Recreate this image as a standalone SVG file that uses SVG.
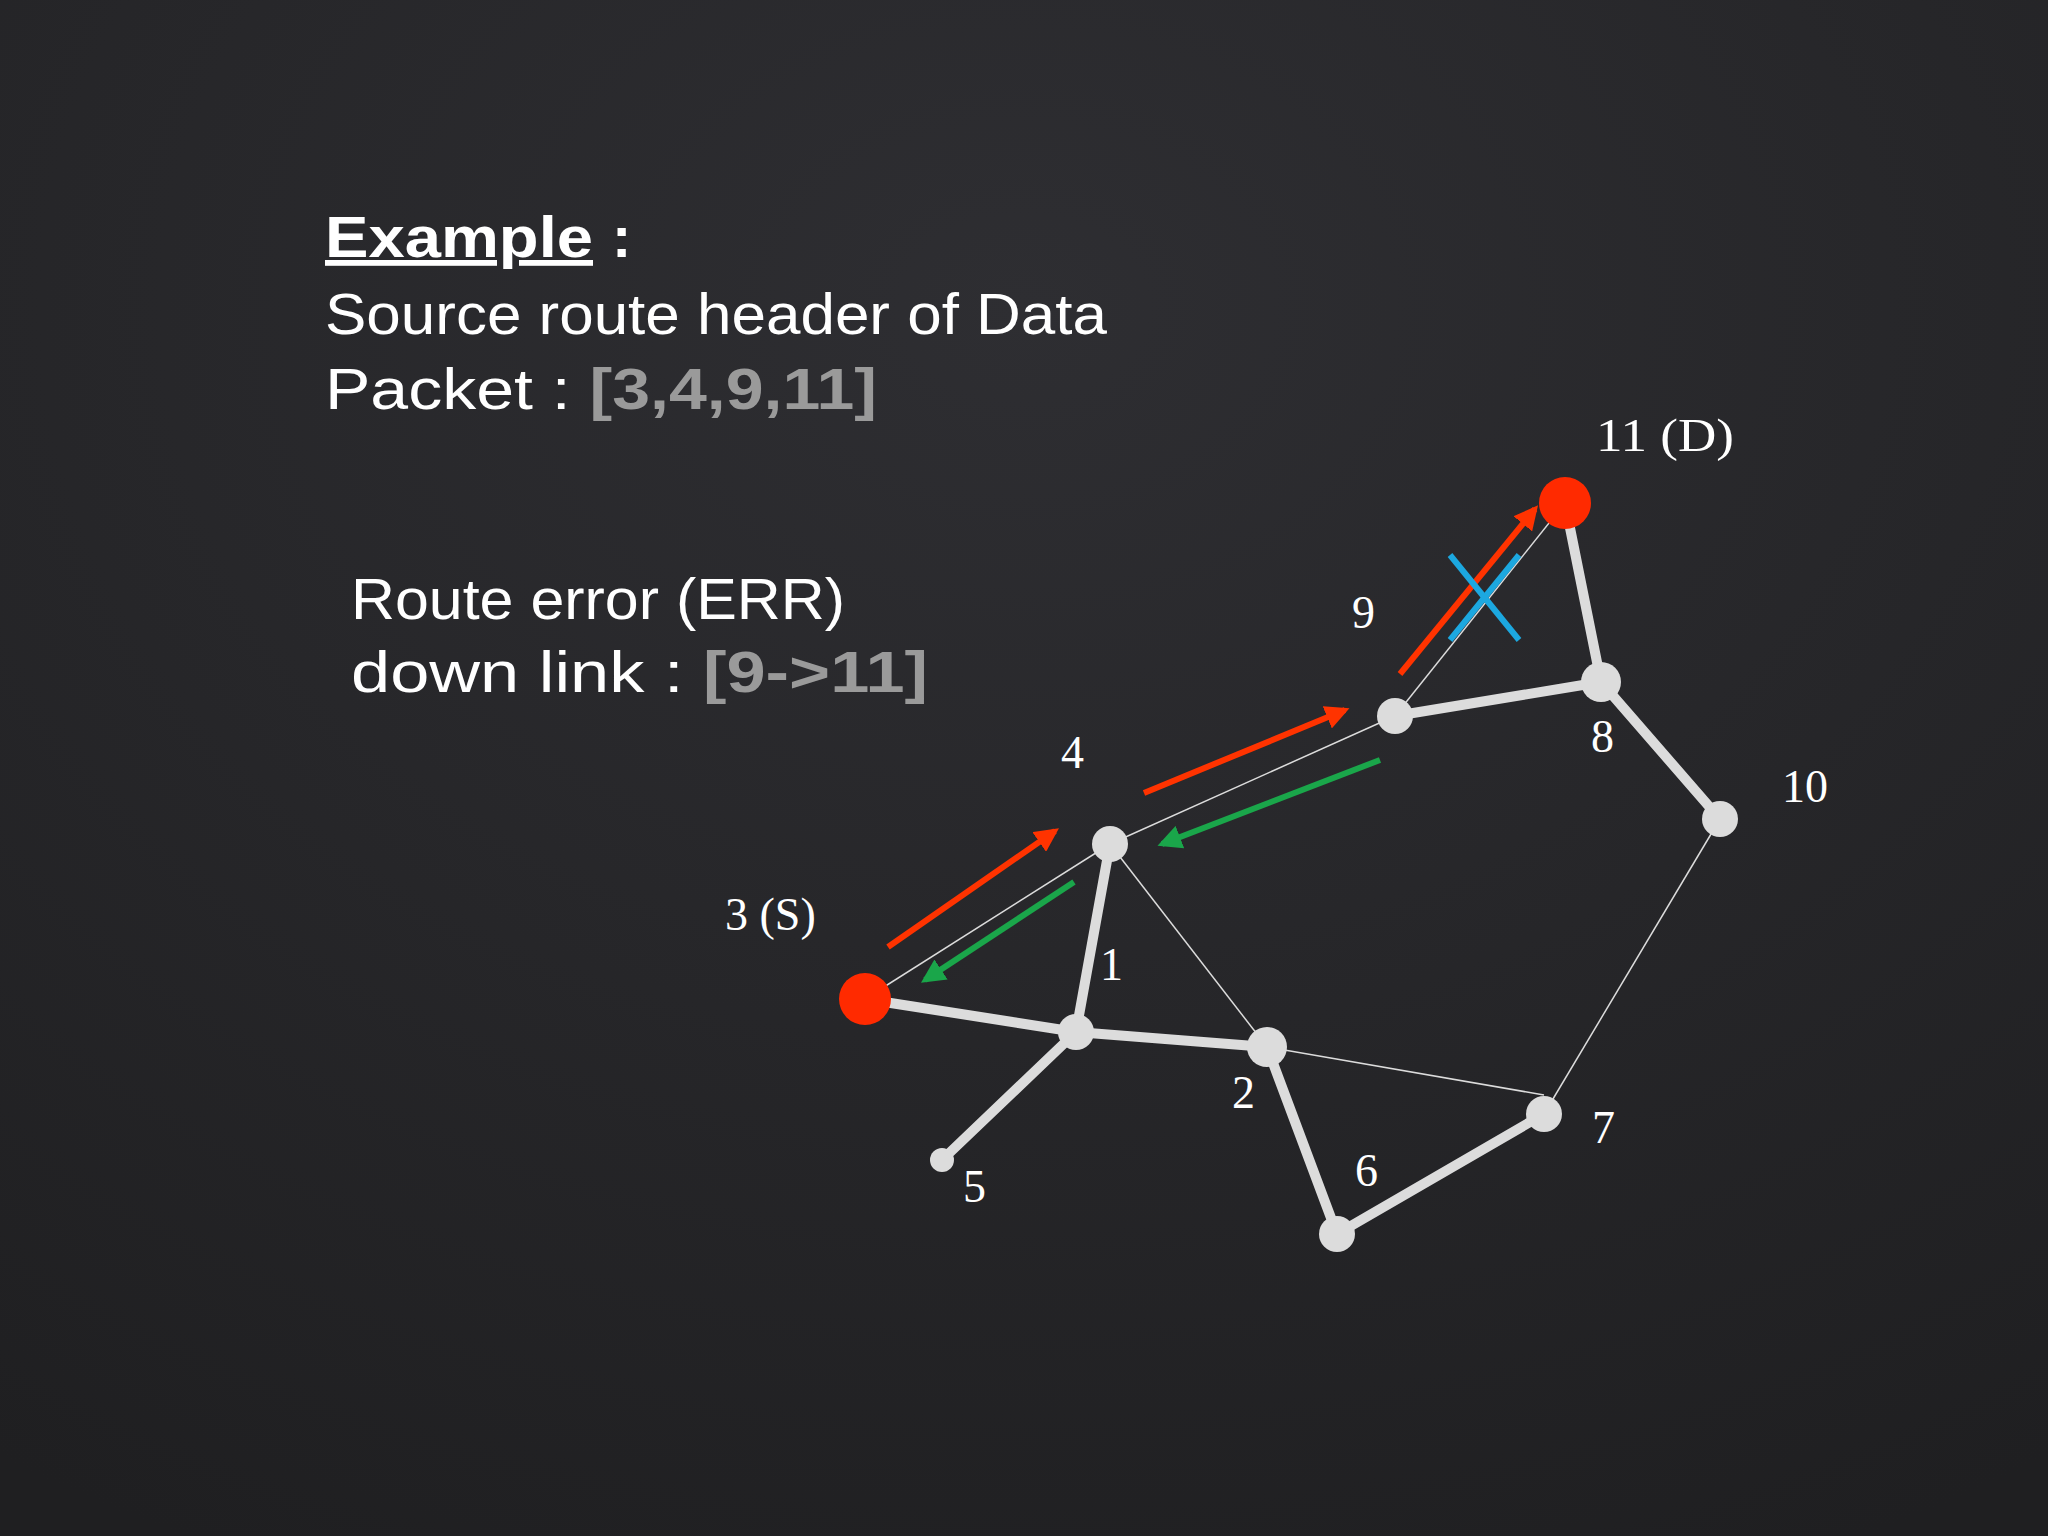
<svg xmlns="http://www.w3.org/2000/svg" width="2048" height="1536" viewBox="0 0 2048 1536">
<defs>
<radialGradient id="bg" cx="0.5" cy="0.2" r="0.9"><stop offset="0" stop-color="#2e2e32"/><stop offset="1" stop-color="#1f1f21"/></radialGradient>
<marker id="ar" viewBox="0 0 10 10" refX="8" refY="5" markerWidth="4" markerHeight="4" orient="auto"><path d="M0,0L10,5L0,10z" fill="#ff3300"/></marker>
<marker id="ag" viewBox="0 0 10 10" refX="8" refY="5" markerWidth="4" markerHeight="4" orient="auto"><path d="M0,0L10,5L0,10z" fill="#1aa64a"/></marker>
</defs>
<style>
.t{font-family:"Liberation Sans",Arial,sans-serif;font-size:58px;fill:#fff}
.g{fill:#9a9a9a;font-weight:bold}
.lb{font-family:"Liberation Serif","Times New Roman",serif;font-size:46px;fill:#fff}
.th{stroke:#dcdcdc;stroke-width:10;stroke-linecap:round}
.tn{stroke:#dcdcdc;stroke-width:1.5}
.n{fill:#dcdcdc}
.r{stroke:#ff3300;stroke-width:6}
.gr{stroke:#1aa64a;stroke-width:6}
</style>
<rect width="2048" height="1536" fill="url(#bg)"/>
<text class="t" x="325" y="257" font-weight="bold" text-decoration="underline" textLength="268" lengthAdjust="spacingAndGlyphs">Example</text><text class="t" x="612" y="257" font-weight="bold">:</text>
<text class="t" x="325" y="334" textLength="782" lengthAdjust="spacingAndGlyphs">Source route header of Data</text>
<text class="t" x="325" y="409" textLength="552" lengthAdjust="spacingAndGlyphs">Packet : <tspan class="g">[3,4,9,11]</tspan></text>
<text class="t" x="351" y="619" textLength="494" lengthAdjust="spacingAndGlyphs">Route error (ERR)</text>
<text class="t" x="351" y="692" textLength="577" lengthAdjust="spacingAndGlyphs">down link : <tspan class="g">[9-&gt;11]</tspan></text>
<g id="connectors">
<line class="th" x1="865" y1="999" x2="1076" y2="1032"/>
<line class="th" x1="1076" y1="1032" x2="1110" y2="844"/>
<line class="th" x1="1076" y1="1032" x2="1267" y2="1047"/>
<line class="th" x1="1076" y1="1032" x2="942" y2="1160"/>
<line class="th" x1="1267" y1="1047" x2="1337" y2="1234"/>
<line class="th" x1="1337" y1="1234" x2="1544" y2="1114"/>
<line class="th" x1="1395" y1="716" x2="1601" y2="682"/>
<line class="th" x1="1601" y1="682" x2="1565" y2="503"/>
<line class="th" x1="1601" y1="682" x2="1720" y2="819"/>
<line class="tn" x1="865" y1="999" x2="1110" y2="844"/>
<line class="tn" x1="1110" y1="844" x2="1395" y2="716"/>
<line class="tn" x1="1395" y1="716" x2="1565" y2="503"/>
<line class="tn" x1="1110" y1="844" x2="1267" y2="1047"/>
<line class="tn" x1="1267" y1="1047" x2="1544" y2="1095"/>
<line class="tn" x1="1720" y1="819" x2="1544" y2="1114"/>
<line class="r" x1="888" y1="947" x2="1055" y2="831" marker-end="url(#ar)"/>
<line class="r" x1="1144" y1="793" x2="1345" y2="710" marker-end="url(#ar)"/>
<line class="r" x1="1400" y1="674" x2="1535" y2="509" marker-end="url(#ar)"/>
<line class="gr" x1="1380" y1="760" x2="1162" y2="844" marker-end="url(#ag)"/>
<line class="gr" x1="1074" y1="882" x2="925" y2="980" marker-end="url(#ag)"/>
<line stroke="#1ca8e0" stroke-width="6" x1="1450" y1="555" x2="1519" y2="640"/>
<line stroke="#1ca8e0" stroke-width="6" x1="1519" y1="555" x2="1450" y2="640"/>
</g>
<g id="n3"><circle cx="865" cy="999" r="26" fill="#ff2a00"/><text class="lb" x="725" y="930">3 (S)</text></g>
<g id="n1"><circle class="n" cx="1076" cy="1032" r="18"/><text class="lb" x="1100" y="980">1</text></g>
<g id="n4"><circle class="n" cx="1110" cy="844" r="18"/><text class="lb" x="1061" y="768">4</text></g>
<g id="n2"><circle class="n" cx="1267" cy="1047" r="20"/><text class="lb" x="1232" y="1108">2</text></g>
<g id="n5"><circle class="n" cx="942" cy="1160" r="12"/><text class="lb" x="963" y="1202">5</text></g>
<g id="n6"><circle class="n" cx="1337" cy="1234" r="18"/><text class="lb" x="1355" y="1186">6</text></g>
<g id="n7"><circle class="n" cx="1544" cy="1114" r="18"/><text class="lb" x="1592" y="1143">7</text></g>
<g id="n9"><circle class="n" cx="1395" cy="716" r="18"/><text class="lb" x="1352" y="628">9</text></g>
<g id="n8"><circle class="n" cx="1601" cy="682" r="20"/><text class="lb" x="1591" y="752">8</text></g>
<g id="n10"><circle class="n" cx="1720" cy="819" r="18"/><text class="lb" x="1782" y="802">10</text></g>
<g id="n11"><circle cx="1565" cy="503" r="26" fill="#ff2a00"/><text class="lb" x="1596" y="451" textLength="138" lengthAdjust="spacingAndGlyphs">11 (D)</text></g>
</svg>
